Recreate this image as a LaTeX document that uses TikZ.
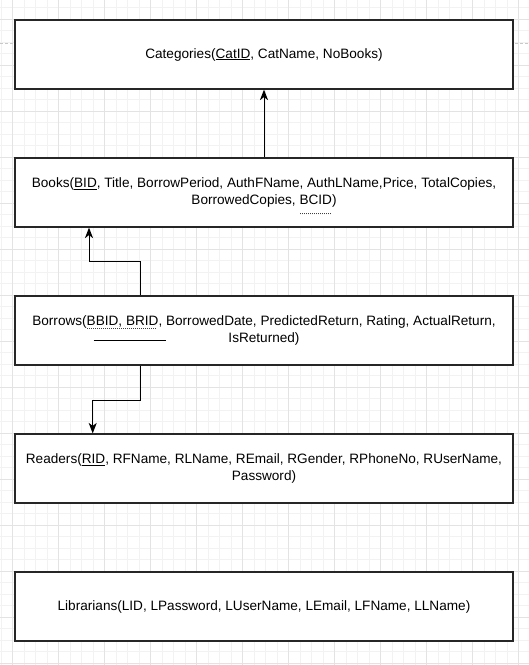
\documentclass[tikz,border=0pt]{standalone}
\usepackage{fontspec}
\setmainfont{Liberation Sans}
\usetikzlibrary{arrows.meta}
\definecolor{gridminor}{HTML}{F2F2F2}
\definecolor{gridmajor}{HTML}{E3E3E3}
\definecolor{pagedash}{HTML}{C8C8C8}
\newcommand\ulsolid[1]{\setbox0=\hbox{#1}\rlap{\smash{\rule[-2.3pt]{\wd0}{1pt}}}\box0}
\newcommand\dotrule[1]{\hbox to #1{\leaders\hbox to 2pt{\hss\vrule width 1pt height 0pt depth 1pt\hss}\hfill}}
\newcommand\uldot[2]{\setbox0=\hbox{#2}\rlap{\smash{\raisebox{-#1}{\color{black!75}\dotrule{\wd0}}}}\box0}
\newcommand\ulborrow[1]{\setbox0=\hbox{#1}\rlap{\smash{\raisebox{-2.3pt}{\color{black!75}\dotrule{\wd0}}}}\rlap{\smash{\hspace{7pt}\rule[-15.3pt]{\wd0}{1pt}}}\box0}
\tikzset{
  box/.style={draw=black!85, line width=1.2pt, fill=white, minimum width=498pt,
    minimum height=69pt, inner sep=0pt, align=center,
    font=\fontsize{13.6}{17.3}\selectfont},
  arr/.style={draw=black, line width=1pt, -{Stealth[length=10.5pt,width=8pt,inset=3pt]}},
  minor/.style={draw=gridminor, line width=0.8pt},
  major/.style={draw=gridmajor, line width=0.8pt}
}
\begin{document}
\begin{tikzpicture}[x=1pt,y=-1pt]
\useasboundingbox (0,0) rectangle (529,665);
\fill[white] (0,0) rectangle (529,665);
% grid
\foreach \i in {0,...,45} \draw[minor] (1.2+11.5*\i,0) -- (1.2+11.5*\i,665);
\foreach \i in {0,...,57} \draw[minor] (0,7.8+11.5*\i) -- (529,7.8+11.5*\i);
\foreach \i in {0,...,11} \draw[major] (12.7+46*\i,0) -- (12.7+46*\i,665);
\foreach \i in {0,...,14} \draw[major] (0,19.3+46*\i) -- (529,19.3+46*\i);
% page break line
\draw[pagedash, line width=0.9pt, dash pattern=on 3pt off 2pt] (0,43.3) -- (529,43.3);
% boxes
\node[box] (cat) at (264,54.5) {Categories(\ulsolid{CatID}, CatName, NoBooks)};
\node[box] (books) at (264,192.5) {Books(\ulsolid{BID}, Title, BorrowPeriod, AuthFName, AuthLName,Price, TotalCopies,\\BorrowedCopies, \uldot{8.7pt}{BCID})};
\node[box] (borrows) at (264,330.5) {Borrows(\ulborrow{BBID, BRID}, BorrowedDate, PredictedReturn, Rating, ActualReturn,\\IsReturned)};
\node[box] (readers) at (264,468.5) {Readers(\ulsolid{RID}, RFName, RLName, REmail, RGender, RPhoneNo, RUserName,\\Password)};
\node[box] (libr) at (264,606.5) {Librarians(LID, LPassword, LUserName, LEmail, LFName, LLName)};
% connectors
\coordinate (k1) at (140,261.7);
\coordinate (k2) at (89,261.7);
\coordinate (k3) at (140,400);
\coordinate (k4) at (92.7,400);
\draw[arr] (books.north) -- (cat.south);
\draw[arr] (borrows.north -| k1) -- (k1) -- (k2) -- (books.south -| k2);
\draw[arr] (borrows.south -| k3) -- (k3) -- (k4) -- (readers.north -| k4);
\end{tikzpicture}
\end{document}
